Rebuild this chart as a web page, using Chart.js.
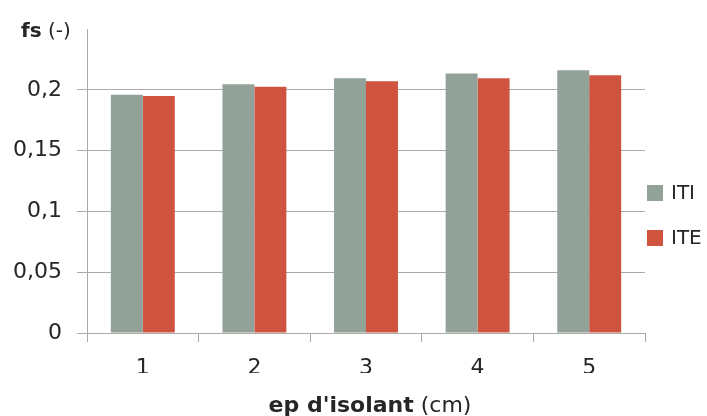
<!DOCTYPE html>
<html>
<head>
<meta charset="utf-8">
<script src="https://cdn.jsdelivr.net/npm/chart.js@4/dist/chart.umd.min.js"></script>
<style>
  html, body { margin: 0; padding: 0; background: #fff; }
  #wrap { width: 707px; height: 416px; }
</style>
</head>
<body>
<div id="wrap"><canvas id="chart" width="707" height="416"></canvas></div>
<script>
// Données
const categories = ['1', '2', '3', '4', '5'];
const seriesNames = ['ITI', 'ITE'];
const itiValues = [0.196, 0.2045, 0.2095, 0.2135, 0.216];
const iteValues = [0.195, 0.2025, 0.207, 0.2095, 0.212];
const yTickValues = [0, 0.05, 0.1, 0.15, 0.2];
const yMax = 0.25;

const yTitleBold = 'fs';
const yTitleUnit = ' (-)';
const xTitleBold = "ep d'isolant";
const xTitleUnit = ' (cm)';

const FONT = "'DejaVu Sans', sans-serif";
const textColor = '#262626';
const lineColor = '#aaaaaa';
const colors = ['#93a299', '#cf543f'];

// texte mixte gras / normal
function drawMixed(ctx, parts, x, y, align) {
    let total = 0;
    parts.forEach(p => {
        ctx.font = p[1] + ' ' + p[2] + 'px ' + FONT;
        total += ctx.measureText(p[0]).width;
    });
    let cx = align === 'center' ? x - total / 2 : x;
    parts.forEach(p => {
        ctx.font = p[1] + ' ' + p[2] + 'px ' + FONT;
        ctx.fillText(p[0], cx, y);
        cx += ctx.measureText(p[0]).width;
    });
}

const titlesAndLegend = {
    id: 'titlesAndLegend',
    afterDraw(chart) {
        const ctx = chart.ctx;
        const area = chart.chartArea;
        ctx.save();
        ctx.fillStyle = textColor;
        ctx.textBaseline = 'alphabetic';
        ctx.textAlign = 'left';
        drawMixed(ctx, [[yTitleBold, 'bold', 20], [yTitleUnit, 'normal', 20]], 21, 37, 'left');
        drawMixed(ctx, [[xTitleBold, 'bold', 22], [xTitleUnit, 'normal', 22]], (area.left + area.right) / 2 + 4, 412, 'center');

        // légende
        ctx.textBaseline = 'middle';
        chart.data.datasets.forEach((ds, i) => {
            const y = 185 + i * 45;
            ctx.fillStyle = ds.backgroundColor;
            ctx.fillRect(area.right + 2, y, 16, 16);
            ctx.fillStyle = textColor;
            ctx.font = 'normal 20px ' + FONT;
            ctx.fillText(ds.label, area.right + 26, y + 9);
        });
        ctx.restore();
    }
};

const ctx = document.getElementById('chart').getContext('2d');
const chart = new Chart(ctx, {
    type: 'bar',
    data: {
        labels: categories,
        datasets: [
            { label: seriesNames[0], data: itiValues, backgroundColor: colors[0] },
            { label: seriesNames[1], data: iteValues, backgroundColor: colors[1] }
        ]
    },
    options: {
        responsive: false,
        animation: false,
        layout: { padding: { top: 29, right: 62, bottom: 43, left: 0 } },
        datasets: {
            bar: { categoryPercentage: 0.573, barPercentage: 1.0 }
        },
        plugins: {
            legend: { display: false },
            tooltip: { enabled: false }
        },
        scales: {
            x: {
                offset: true,
                grid: { offset: true, drawOnChartArea: false, tickLength: 9, color: lineColor },
                border: { color: lineColor },
                ticks: { color: textColor, font: { family: FONT, size: 22 }, padding: 13 },
                afterFit: s => { s.height = 40; }
            },
            y: {
                min: 0,
                max: yMax,
                grid: { color: lineColor, tickLength: 10 },
                border: { color: lineColor },
                ticks: {
                    color: textColor,
                    font: { family: FONT, size: 22 },
                    padding: 15,
                    callback: v => String(v).replace('.', ',')
                },
                afterBuildTicks: s => { s.ticks = yTickValues.map(v => ({ value: v })); },
                afterFit: s => { s.width = 87; }
            }
        }
    },
    plugins: [titlesAndLegend]
});
</script>
</body>
</html>
